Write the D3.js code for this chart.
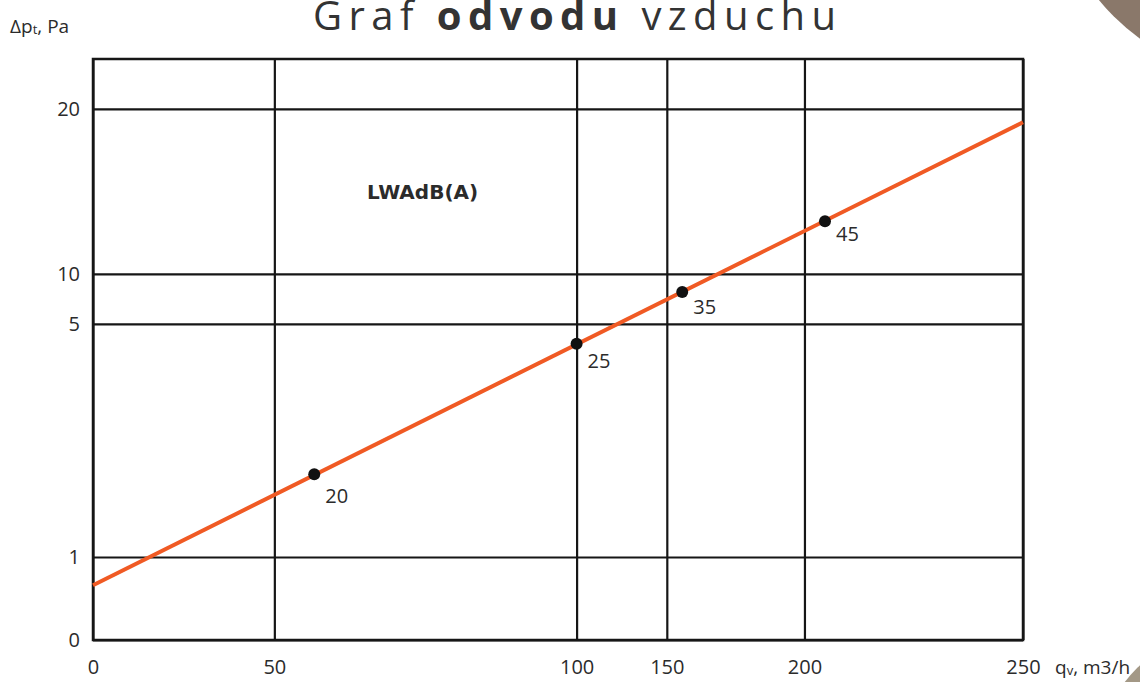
<!DOCTYPE html>
<html>
<head>
<meta charset="utf-8">
<script src="https://cdn.jsdelivr.net/npm/d3@7"></script>
<style>
  body { margin: 0; background: #fff; overflow: hidden; }
  .chart text { font-family: "Open Sans", sans-serif; fill: #2b2b2b; }
</style>
</head>
<body>
<div class="chart"></div>
<script>
// Graf odvodu vzduchu - pressure vs. airflow

// x axis breaks (qv, m3/h) and y axis breaks (dpt, Pa)
var xTicks = [0, 50, 100, 150, 200, 250];
var yTicks = [0, 1, 5, 10, 20];

// orange characteristic line (ends)
var lineQ = [0, 250];
var lineP = [0.66, 19.2];

// operating points with their LWA labels
var pointQ = [56.6, 100, 155.6, 204.7];
var pointP = [2.42, 4.66, 8.2, 13.2];
var pointLabels = ["20", "25", "35", "45"];

var svgWidth = 1140;
var svgHeight = 682;

var margin = { top: 59, right: 117, bottom: 42, left: 93 };
var width = svgWidth - margin.left - margin.right;
var height = svgHeight - margin.top - margin.bottom;

// the original grid is not evenly spaced, so scales are piecewise
var xStops = [0, 0.195, 0.52, 0.617, 0.765, 1];
var yStops = [0, 0.1429, 0.544, 0.63, 0.914, 1];
var yTop = 23.03;

var svg = d3.select(".chart")
  .append("svg")
  .attr("width", svgWidth)
  .attr("height", svgHeight);

var chartGroup = svg.append("g")
  .attr("transform", `translate(${margin.left}, ${margin.top})`);

var xScale = d3.scaleLinear()
  .domain(xTicks)
  .range(xStops.map(f => f * width));

var yScale = d3.scaleLinear()
  .domain(yTicks.concat([yTop]))
  .range(yStops.map(f => height - f * height));

// grid via axes
var bottomAxis = d3.axisBottom(xScale)
  .tickValues(xTicks)
  .tickSize(-height)
  .tickSizeOuter(0)
  .tickPadding(20)
  .tickFormat(d3.format("d"));

var leftAxis = d3.axisLeft(yScale)
  .tickValues(yTicks)
  .tickSize(-width)
  .tickSizeOuter(0)
  .tickPadding(13)
  .tickFormat(d3.format("d"));

var xAxis = chartGroup.append("g")
  .attr("transform", `translate(0, ${height})`)
  .call(bottomAxis);

var yAxis = chartGroup.append("g")
  .call(leftAxis);

[xAxis, yAxis].forEach(function(ax) {
  ax.select(".domain").remove();
  ax.selectAll("line")
    .attr("stroke", "#161616")
    .attr("stroke-width", 2.2);
  ax.selectAll("text")
    .style("font-size", "20px")
    .attr("fill", "#2b2b2b");
});

// outer frame
chartGroup.append("rect")
  .attr("x", 0)
  .attr("y", 0)
  .attr("width", width)
  .attr("height", height)
  .attr("fill", "none")
  .attr("stroke", "#161616")
  .attr("stroke-width", 2.5);

// characteristic line
var lineData = lineQ.map((q, i) => ({ q: q, p: lineP[i] }));
var line = d3.line()
  .x(d => xScale(d.q))
  .y(d => yScale(d.p));

chartGroup.append("path")
  .datum(lineData)
  .attr("d", line)
  .attr("fill", "none")
  .attr("stroke", "#f05a24")
  .attr("stroke-width", 4);

// points
var points = pointQ.map((q, i) => ({ q: q, p: pointP[i], label: pointLabels[i] }));
var labelDy = [22, 17, 15, 13];

chartGroup.selectAll("circle")
  .data(points)
  .enter()
  .append("circle")
  .attr("cx", d => xScale(d.q))
  .attr("cy", d => yScale(d.p))
  .attr("r", 6)
  .attr("fill", "#111");

chartGroup.selectAll("text.pt")
  .data(points)
  .enter()
  .append("text")
  .attr("class", "pt")
  .attr("x", d => xScale(d.q) + 11)
  .attr("y", (d, i) => yScale(d.p) + labelDy[i])
  .attr("dy", "0.35em")
  .style("font-size", "20px")
  .text(d => d.label);

// LWA label
chartGroup.append("text")
  .attr("x", 274)
  .attr("y", 133)
  .attr("dy", "0.35em")
  .style("font-family", "'DejaVu Sans', sans-serif")
  .style("font-weight", "bold")
  .style("font-size", "20px")
  .text("LWAdB(A)");

// axis titles
var yTitle = svg.append("text")
  .attr("x", 10)
  .attr("y", 33)
  .style("font-size", "19px");
yTitle.append("tspan").text("Δp");
yTitle.append("tspan").attr("dy", 1).style("font-size", "13px").text("t");
yTitle.append("tspan").attr("dy", -1).text(", Pa");

var xTitle = svg.append("text")
  .attr("x", 1055)
  .attr("y", margin.top + height + 27)
  .attr("dy", "0.35em")
  .style("font-size", "19px");
xTitle.append("tspan").text("q");
xTitle.append("tspan").attr("dy", 1).style("font-size", "13px").text("v");
xTitle.append("tspan").attr("dy", -1).text(", m3/h");

// title
var title = svg.append("text")
  .attr("x", 313)
  .attr("y", 30)
  .attr("textLength", 523)
  .attr("lengthAdjust", "spacing")
  .style("font-size", "40px")
  .style("fill", "#333");
title.append("tspan").text("Graf ");
title.append("tspan").style("font-weight", "bold").text("odvodu");
title.append("tspan").text(" vzduchu");

// page decoration in the corners
svg.append("circle")
  .attr("cx", 1260)
  .attr("cy", -130)
  .attr("r", 207)
  .attr("fill", "#8a786a");

svg.append("circle")
  .attr("cx", 1250)
  .attr("cy", 780)
  .attr("r", 159)
  .attr("fill", "#a39886");
</script>
</body>
</html>
